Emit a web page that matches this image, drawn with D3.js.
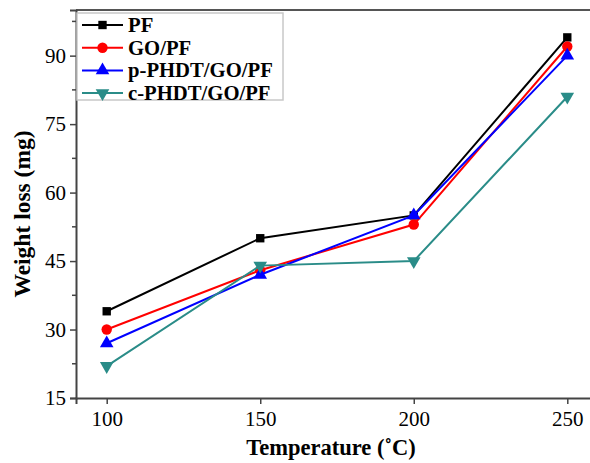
<!DOCTYPE html>
<html><head><meta charset="utf-8">
<script src="https://cdn.jsdelivr.net/npm/d3@7"></script>
<style>body{margin:0;background:#fff}svg{display:block}text{font-family:"Liberation Serif","Times New Roman",serif}</style>
</head><body><svg id="c" width="590" height="463"></svg>
<script>
const temps = [100, 150, 200, 250];
const seriesNames = ["PF", "GO/PF", "p-PHDT/GO/PF", "c-PHDT/GO/PF"];
const pfVals = [34, 50, 55, 94];
const goPfVals = [30, 43, 53, 92];
const pPhdtVals = [27, 42, 55, 90];
const cPhdtVals = [22, 44, 45, 81];
const xTicks = [100, 150, 200, 250];
const yTicks = [15, 30, 45, 60, 75, 90];
const colors = ["#000000", "#ff0000", "#0000ff", "#2a8c88"];
const symbols = [d3.symbolSquare, d3.symbolCircle, d3.symbolTriangle, "down"];

const series = [pfVals, goPfVals, pPhdtVals, cPhdtVals].map((v, i) => ({name: seriesNames[i], values: v, color: colors[i], sym: symbols[i]}));

const svg = d3.select("#c");
const L = 76, T = 10, B = 398, R = 598;
const x = d3.scaleLinear().domain([90, 260]).range([L, R]);
const y = d3.scaleLinear().domain([15, 100]).range([B, T]);

// frame top/right
svg.append("line").attr("x1", L).attr("x2", R).attr("y1", T).attr("y2", T).attr("stroke", "#555").attr("stroke-width", 2);
svg.append("line").attr("x1", R - 1).attr("x2", R - 1).attr("y1", T).attr("y2", B).attr("stroke", "#555").attr("stroke-width", 2);

const xAxis = svg.append("g").attr("transform", `translate(0,${B})`)
  .call(d3.axisBottom(x).tickValues(xTicks).tickSize(6).tickPadding(7).tickFormat(d3.format("d")));
const yAxis = svg.append("g").attr("transform", `translate(${L},0)`)
  .call(d3.axisLeft(y).tickValues(yTicks).tickSize(6).tickPadding(4).tickFormat(d3.format("d")));
// minor y ticks
const minorY = yTicks.map(v => v + 7.5).filter(v => v < 100);
svg.append("g").selectAll("line").data(minorY).join("line")
  .attr("x1", L - 4).attr("x2", L).attr("y1", d => y(d)).attr("y2", d => y(d))
  .attr("stroke", "#444").attr("stroke-width", 1.5);
[xAxis, yAxis].forEach(g => {
  g.select(".domain").attr("stroke", "#444").attr("stroke-width", 2);
  g.selectAll(".tick line").attr("stroke", "#444").attr("stroke-width", 1.5);
  g.selectAll(".tick text").attr("font-size", 21).attr("fill", "#000").attr("font-family", "Liberation Serif");
});

function sym(s, size) {
  if (s === "down") return d3.symbol().type(d3.symbolTriangle).size(size)();
  return d3.symbol().type(s).size(size)();
}
function symSize(s) { return s === d3.symbolSquare ? 70 : (s === d3.symbolCircle ? 85 : 80); }

const line = d3.line().x((d, i) => x(temps[i])).y(d => y(d));
series.forEach(s => {
  svg.append("path").attr("d", line(s.values)).attr("fill", "none").attr("stroke", s.color).attr("stroke-width", 2);
  svg.append("g").selectAll("path").data(s.values).join("path")
    .attr("d", sym(s.sym, symSize(s.sym)))
    .attr("transform", (d, i) => `translate(${x(temps[i])},${y(d)})${s.sym === "down" ? " rotate(180)" : ""}`)
    .attr("fill", s.color);
});

// legend
const lg = svg.append("g");
lg.append("rect").attr("x", 77).attr("y", 13).attr("width", 206).attr("height", 87)
  .attr("fill", "#fff").attr("stroke", "#c8c8c8").attr("stroke-width", 1.5);
series.forEach((s, i) => {
  const yy = 25 + i * 22.7;
  lg.append("line").attr("x1", 82).attr("x2", 123).attr("y1", yy).attr("y2", yy).attr("stroke", s.color).attr("stroke-width", 2);
  lg.append("path").attr("d", sym(s.sym, symSize(s.sym)))
    .attr("transform", `translate(102.5,${yy})${s.sym === "down" ? " rotate(180)" : ""}`).attr("fill", s.color);
  lg.append("text").attr("x", 128).attr("y", yy + 7).attr("font-size", 20.7).attr("font-weight", "bold").text(s.name);
});

svg.append("text").attr("x", 331).attr("y", 455).attr("text-anchor", "middle")
  .attr("font-size", 22.5).attr("font-weight", "bold").text("Temperature (˚C)");
svg.append("text").attr("transform", "translate(30,214) rotate(-90)").attr("text-anchor", "middle")
  .attr("font-size", 23.5).attr("font-weight", "bold").text("Weight loss (mg)");
</script></body></html>
